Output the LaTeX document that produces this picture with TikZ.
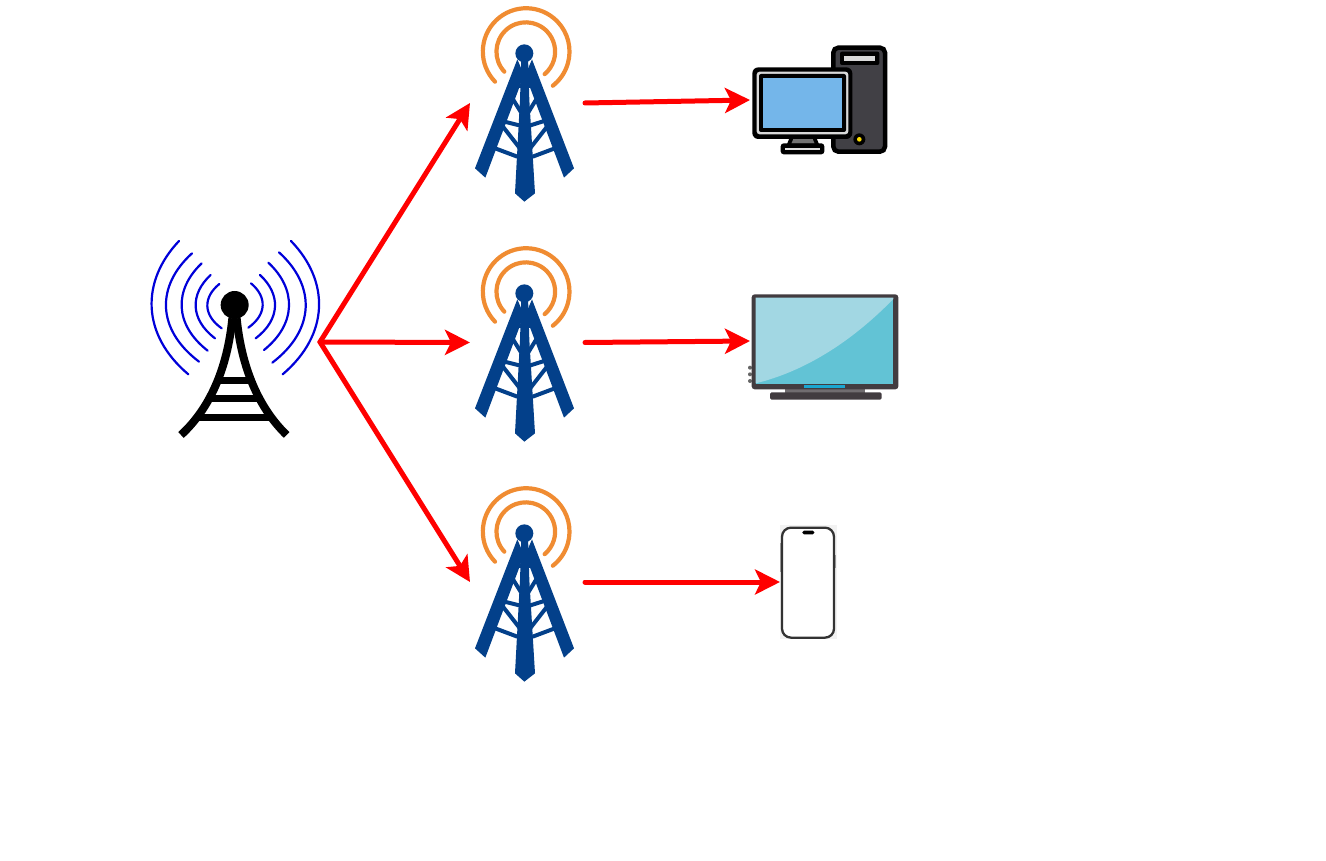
\documentclass[tikz,border=0pt]{standalone}
\usetikzlibrary{arrows.meta}
\definecolor{relayblue}{HTML}{03408A}
\definecolor{relayorange}{HTML}{F08C32}
\definecolor{casegray}{HTML}{414045}
\definecolor{screenblue}{HTML}{74B6EA}
\definecolor{tvframe}{HTML}{423C40}
\definecolor{tvdark}{HTML}{62C3D5}
\definecolor{tvlight}{HTML}{A2D7E3}
\definecolor{tvbar}{HTML}{1BA6D0}
\begin{document}
\begin{tikzpicture}
[x=1pt,y=-1pt,
 iconbox/.style={rectangle,draw=none,inner sep=0pt,outer sep=0pt,minimum height=10pt},
 link/.style={draw=red,line width=5pt,line cap=round,-{Stealth[length=25pt,width=25pt,inset=6pt]}},
 wave/.style={draw=blue!85!black,line width=2.2pt,line cap=round},
 halo/.style={draw=relayorange,line width=4.2pt,line cap=round},
 brace/.style={draw=relayblue,line width=4pt},
 rib/.style={draw=black,line width=8pt},
 relay/.pic={
  \begin{scope}[scale=1/3]
  \draw[halo] (105,245) arc[start angle=136,end angle=412,radius=130];
  \draw[halo] (133,215) arc[start angle=137,end angle=410,radius=88];
  \fill[relayblue] (193,160) circle[radius=27];
  \fill[relayblue] (172,178)--(45,505)--(76,533)--(192,225)--cycle;
  \fill[relayblue] (216,178)--(342,505)--(312,533)--(196,225)--cycle;
  \fill[relayblue] (184,170)--(204,170)--(208,300)--(225,580)--(193,605)--(165,580)--(180,300)--cycle;
  \draw[brace] (148,266) .. controls (165,254) and (222,254) .. (240,266);
  \draw[brace] (148,280)--(188,345);
  \draw[brace] (240,280)--(200,345);
  \draw[brace] (130,364)--(185,378);
  \draw[brace] (262,360)--(205,378);
  \draw[brace] (125,375)--(182,448);
  \draw[brace] (265,375)--(208,448);
  \draw[brace] (100,443)--(172,470);
  \draw[brace] (290,443)--(218,470);
  \end{scope}
 }]
\useasboundingbox (0,0) rectangle (1326,861);

% source mast
\begin{scope}[shift={(130,225)},scale=1/3]
\foreach \xa/\ya/\xb/\xc/\yc in {147/48/65/175/448,186/85/108/207/410,215/115/155/233/377,
  242/150/197/255/340,268/177/232/275/310,483/48/567/458/448,447/82/527/427/413,
  415/113/477/402/375,390/150/435/377/340,363/175/398/355/308}
  \draw[wave] (\xa,\ya) .. controls ({(8*\xb-\xa-\xc)/6},{\ya+0.3*(\yc-\ya)})
    and ({(8*\xb-\xa-\xc)/6},{\yc-0.3*(\yc-\ya)}) .. (\xc,\yc);
\fill (314,240) circle[radius=42];
\draw[rib] (307,280) .. controls (292,430) and (240,550) .. (153,630);
\draw[rib] (320,280) .. controls (335,430) and (387,550) .. (470,630);
\draw[draw=black,line width=7pt] (268,466)--(358,466);
\draw[draw=black,line width=7pt] (240,522)--(385,522);
\draw[draw=black,line width=7pt] (195,578)--(430,578);
\end{scope}

% relays
\pic at (460,0) {relay};
\pic at (460,240) {relay};
\pic at (460,480) {relay};

% computer
\begin{scope}[shift={(740,35)},scale=1/3]
\draw[draw=black,line width=4.5pt,fill=casegray,rounded corners=5pt] (280,38) rectangle (435,350);
\fill[black,rounded corners=2pt] (300,50) rectangle (418,90);
\fill[black!15] (313,63) rectangle (405,78);
\fill[black] (358,313) circle[radius=18];
\fill[yellow!80!orange] (358,313) circle[radius=7];
\fill[black] (150,305)--(228,305)--(238,330)--(140,330)--cycle;
\fill[black!55] (160,312)--(218,312)--(224,326)--(154,326)--cycle;
\fill[black,rounded corners=3pt] (122,325) rectangle (253,358);
\fill[black!12] (135,339) rectangle (241,346);
\fill[black,rounded corners=6pt] (37,97) rectangle (337,312);
\fill[black!15,rounded corners=3pt] (50,110) rectangle (325,298);
\fill[black,rounded corners=2pt] (57,117) rectangle (318,291);
\fill[screenblue] (68,128) rectangle (307,280);
\end{scope}

% television
\begin{scope}[shift={(740,285)},scale=1/3]
\foreach \yb in {248,268,288}
  \fill[black!60] (30,\yb) circle[radius=6];
\fill[tvframe!75] (135,310) rectangle (375,324);
\fill[tvframe,rounded corners=1.5pt] (90,322) rectangle (425,344);
\fill[tvframe,rounded corners=3pt] (35,28) rectangle (475,313);
\fill[tvdark] (47,38) rectangle (460,296);
\fill[tvlight] (47,38)--(460,38)--(460,42) .. controls (330,175) and (190,260) .. (47,295)--cycle;
\fill[tvbar] (192,300) rectangle (316,309);
\end{scope}

% phone
\begin{scope}[shift={(760,515)},scale=1/3]
\fill[black!5] (60,30) rectangle (230,372);
\fill[black!35] (60,85) rectangle (65,170);
\fill[black!35] (224,120) rectangle (229,160);
\draw[draw=black!80,fill=white,line width=2.3pt,rounded corners=9pt] (66,38) rectangle (222,368);
\fill[black,rounded corners=1.5pt] (127,47) rectangle (163,58);
\end{scope}

\node[iconbox,minimum width=170pt] (tx)     at (235,342)   {};
\node[iconbox,minimum width=115pt] (relayA) at (527.5,103) {};
\node[iconbox,minimum width=115pt] (relayB) at (527.5,342.5) {};
\node[iconbox,minimum width=115pt] (relayC) at (527.5,582) {};
\node[iconbox,minimum width=150pt] (pc)     at (825,100)   {};
\node[iconbox,minimum width=150pt] (tv)     at (825,341)   {};
\node[iconbox,minimum width=56pt]  (phone)  at (808,582)   {};
\draw[link] (tx.east) -- (relayA.west);
\draw[link] (tx.east) -- (relayB.west);
\draw[link] (tx.east) -- (relayC.west);
\draw[link] (relayA.east) -- (pc.west);
\draw[link] (relayB.east) -- (tv.west);
\draw[link] (relayC.east) -- (phone.west);
\end{tikzpicture}
\end{document}
